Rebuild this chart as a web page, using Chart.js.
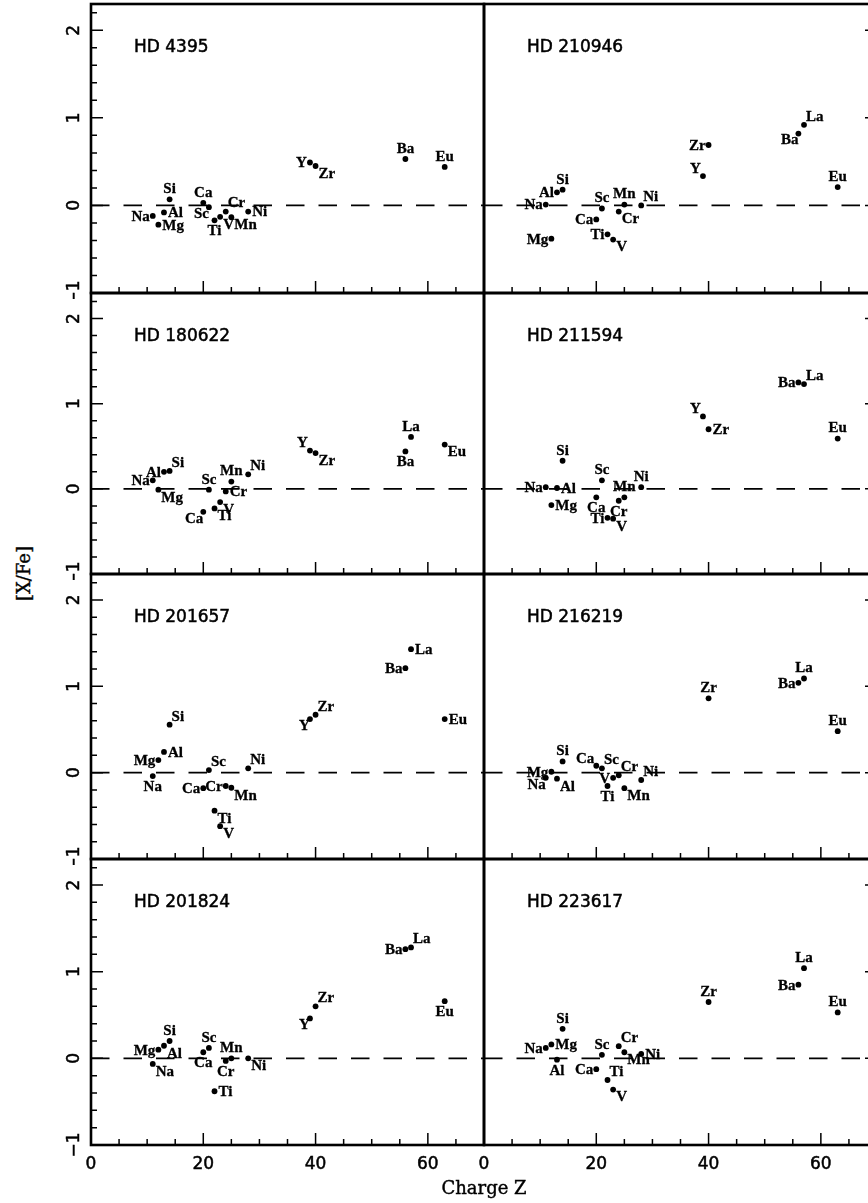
<!DOCTYPE html>
<html>
<head>
<meta charset="utf-8">
<script src="https://cdn.jsdelivr.net/npm/chart.js@4.4.1/dist/chart.umd.min.js"></script>
<style>
  body { margin: 0; background: #fff; }
  #wrap { position: relative; width: 868px; height: 1203px; overflow: hidden; background: #fff; }
  #wrap canvas { position: absolute; }
  .axtitle { position: absolute; font-family: "DejaVu Serif"; font-size: 18px; color: #000; white-space: nowrap; -webkit-text-stroke: 0.4px #000; }
</style>
</head>
<body>
<div id="wrap"></div>
<script>
// element order and their charge Z
const elements = ['Na', 'Mg', 'Al', 'Si', 'Ca', 'Sc', 'Ti', 'V', 'Cr', 'Mn', 'Ni', 'Y', 'Zr', 'Ba', 'La', 'Eu'];
const charges = [11, 12, 13, 14, 20, 21, 22, 23, 24, 25, 28, 39, 40, 56, 57, 63];

const stars = ['HD 4395', 'HD 210946', 'HD 180622', 'HD 211594', 'HD 201657', 'HD 216219', 'HD 201824', 'HD 223617'];

// [X/Fe] per star, same order as elements (null = not measured)
const hd4395   = [-0.12, -0.22, -0.08, 0.07, 0.03, -0.02, -0.17, -0.13, -0.07, -0.135, -0.07, 0.49, 0.45, 0.53, null, 0.44];
const hd210946 = [0.01, -0.38, 0.15, 0.18, -0.16, -0.035, -0.33, -0.39, -0.07, 0.01, 0.00, 0.335, 0.69, 0.82, 0.92, 0.21];
const hd180622 = [0.10, -0.01, 0.20, 0.21, -0.27, -0.01, -0.23, -0.155, -0.03, 0.085, 0.17, 0.45, 0.42, 0.44, 0.61, 0.52];
const hd211594 = [0.02, -0.19, 0.01, 0.33, -0.10, 0.10, -0.34, -0.35, -0.14, -0.10, 0.02, 0.85, 0.70, 1.25, 1.23, 0.59];
const hd201657 = [-0.04, 0.145, 0.24, 0.555, -0.18, 0.03, -0.44, -0.62, -0.155, -0.175, 0.05, 0.62, 0.67, 1.21, 1.43, 0.62];
const hd216219 = [-0.06, 0.01, -0.07, 0.13, 0.08, 0.05, -0.155, -0.06, -0.03, -0.18, -0.085, null, 0.86, 1.04, 1.09, 0.48];
const hd201824 = [-0.065, 0.10, 0.145, 0.20, 0.07, 0.12, -0.38, null, -0.03, 0.00, 0.00, 0.46, 0.60, 1.26, 1.28, 0.66];
const hd223617 = [0.12, 0.16, -0.015, 0.34, -0.125, 0.04, -0.25, -0.36, 0.14, 0.07, 0.05, null, 0.65, 0.85, 1.04, 0.53];
const values = [hd4395, hd210946, hd180622, hd211594, hd201657, hd216219, hd201824, hd223617];

// where each element label sits relative to its dot
const place = [
  ['l', 'r', 'r', 't', 't', 'bl', 'b', 'br', 'tr', 'br', 'r', 'l', 'br', 't', '', 't'],
  ['l', 'l', 'l', 't', 'l', 't', 'l', 'br', 'br', 't', 'tr', 'tl', 'l', 'bl', 'tr', 't'],
  ['l', 'br', 'l', 'tr', 'bl', 't', 'br', 'br', 'r', 't', 'tr', 'tl', 'br', 'b', 't', 'br'],
  ['l', 'r', 'r', 't', 'b', 't', 'l', 'br', 'b', 't', 't', 'tl', 'r', 'l', 'tr', 't'],
  ['b', 'l', 'r', 'tr', 'l', 'tr', 'br', 'br', 'l', 'br', 'tr', 'bl', 'tr', 'l', 'r', 'r'],
  ['bl', 'l', 'br', 't', 'tl', 'tr', 'b', 'l', 'tr', 'br', 'tr', '', 't', 'l', 't', 't'],
  ['br', 'l', 'br', 't', 'b', 't', 'r', '', 'b', 't', 'br', 'bl', 'tr', 'l', 'tr', 'b'],
  ['l', 'r', 'b', 't', 'l', 't', 'tr', 'br', 'tr', 'br', 'r', '', 't', 'l', 't', 't']
];

const xMin = 0, xMax = 70, xStep = 5;
const yMin = -1, yMax = 2.3, yStep = 0.2;

// panel geometry (page pixels)
const colLeft = [91, 484];
const panelW = 393;
const rowTop = [4, 293, 574, 859];
const rowBottom = [293, 574, 859, 1145];

const isInt = v => Math.abs(v - Math.round(v)) < 1e-6;
const labelFont = 'bold 15px "Liberation Serif"';

const framePlugin = {
  id: 'frame',
  afterDraw(chart, args, opts) {
    const { ctx, chartArea: a } = chart;
    const x = chart.scales.x, y = chart.scales.y;
    ctx.save();
    ctx.strokeStyle = '#000';
    ctx.fillStyle = '#000';

    // inward tick marks
    ctx.lineWidth = 1.5;
    ctx.beginPath();
    x.ticks.forEach(t => {
      const px = x.getPixelForValue(t.value);
      const len = t.value % 20 === 0 ? 12 : 6;
      ctx.moveTo(px, a.bottom);
      ctx.lineTo(px, a.bottom - len);
    });
    y.ticks.forEach(t => {
      const py = y.getPixelForValue(t.value);
      const len = isInt(t.value) ? 12 : 6;
      if (opts.side === 'left') {
        ctx.moveTo(a.left, py); ctx.lineTo(a.left + len, py);
      } else {
        ctx.moveTo(a.right, py); ctx.lineTo(a.right - len, py);
      }
    });
    ctx.stroke();

    // box
    ctx.lineWidth = 2.6;
    ctx.strokeRect(a.left, a.top, a.right - a.left, a.bottom - a.top);

    // rotated y tick labels on the left column
    ctx.lineWidth = 0.5;
    if (opts.side === 'left') {
      ctx.font = '17px "DejaVu Sans"';
      ctx.textAlign = 'center';
      ctx.textBaseline = 'middle';
      y.ticks.forEach(t => {
        if (!isInt(t.value)) return;
        const py = y.getPixelForValue(t.value);
        const n = Math.round(t.value);
        const txt = n < 0 ? '\u2212' + Math.abs(n) : String(n);
        ctx.save();
        ctx.translate(a.left - 16, py);
        ctx.rotate(-Math.PI / 2);
        ctx.fillText(txt, 0, 0);
        ctx.strokeText(txt, 0, 0);
        ctx.restore();
      });
    }

    // star name
    ctx.font = '17px "DejaVu Sans"';
    ctx.textAlign = 'left';
    ctx.textBaseline = 'middle';
    ctx.fillText(opts.title, a.left + 43, a.top + 44);
    ctx.strokeText(opts.title, a.left + 43, a.top + 44);

    // element labels
    const ds = chart.data.datasets[0];
    const meta = chart.getDatasetMeta(0);
    ctx.font = labelFont;
    ctx.lineWidth = 0.3;
    ctx.textBaseline = 'middle';
    meta.data.forEach((pt, k) => {
      const d = ds.data[k];
      const w = ctx.measureText(d.el).width;
      let lx = pt.x, ly = pt.y;
      switch (d.pos) {
        case 't': lx = pt.x - w / 2; ly = pt.y - 10; break;
        case 'b': lx = pt.x - w / 2; ly = pt.y + 11; break;
        case 'l': lx = pt.x - 3 - w; ly = pt.y + 1; break;
        case 'r': lx = pt.x + 4; ly = pt.y + 1; break;
        case 'tr': lx = pt.x + 2; ly = pt.y - 8; break;
        case 'br': lx = pt.x + 3; ly = pt.y + 8; break;
        case 'tl': lx = pt.x - 2 - w; ly = pt.y - 7; break;
        case 'bl': lx = pt.x - w; ly = pt.y + 7; break;
        default: return;
      }
      ctx.textAlign = 'left';
      ctx.fillText(d.el, lx, ly);
      ctx.strokeText(d.el, lx, ly);
    });
    ctx.restore();
  }
};

const wrap = document.getElementById('wrap');

stars.forEach((star, i) => {
  const col = i % 2, row = Math.floor(i / 2);
  const L = col === 0 ? 50 : 30, R = 10, T = 6, B = row === 3 ? 40 : 6;
  const h = rowBottom[row] - rowTop[row];
  const canvas = document.createElement('canvas');
  canvas.width = panelW + L + R;
  canvas.height = h + T + B;
  canvas.style.left = (colLeft[col] - L) + 'px';
  canvas.style.top = (rowTop[row] - T) + 'px';
  wrap.appendChild(canvas);

  const pts = elements
    .map((el, k) => ({ x: charges[k], y: values[i][k], el, pos: place[i][k] }))
    .filter(p => p.y !== null);

  new Chart(canvas.getContext('2d'), {
    type: 'scatter',
    data: {
      datasets: [
        {
          data: pts,
          pointRadius: 2.9,
          pointHoverRadius: 2.9,
          pointBackgroundColor: '#000',
          pointBorderWidth: 0
        },
        {
          type: 'line',
          data: [{ x: xMin, y: 0 }, { x: xMax, y: 0 }],
          borderColor: '#000',
          borderWidth: 1.6,
          borderDash: [18.5, 14],
          pointRadius: 0
        }
      ]
    },
    options: {
      responsive: false,
      animation: false,
      events: [],
      layout: { padding: { left: 0, right: R, top: T, bottom: 0 } },
      plugins: {
        legend: { display: false },
        tooltip: { enabled: false },
        frame: { side: col === 0 ? 'left' : 'right', title: star }
      },
      scales: {
        x: {
          type: 'linear',
          min: xMin,
          max: xMax,
          grid: { display: false, drawTicks: false },
          border: { display: false },
          ticks: {
            display: row === 3,
            stepSize: xStep,
            includeBounds: false,
            autoSkip: false,
            maxRotation: 0,
            padding: 9,
            color: '#000',
            textStrokeColor: '#000',
            textStrokeWidth: 0.5,
            font: { family: 'DejaVu Sans', size: 17 },
            callback: v => (v % 20 === 0 && v < xMax ? String(v) : '')
          },
          afterFit: s => { s.height = B; }
        },
        y: {
          type: 'linear',
          min: yMin,
          max: yMax,
          grid: { display: false, drawTicks: false },
          border: { display: false },
          ticks: { display: false, stepSize: yStep, includeBounds: false },
          afterFit: s => { s.width = L; }
        }
      }
    },
    plugins: [framePlugin]
  });
});

// shared axis titles
const xt = document.createElement('div');
xt.className = 'axtitle';
xt.textContent = 'Charge Z';
xt.style.left = '384px';
xt.style.width = '200px';
xt.style.textAlign = 'center';
xt.style.top = '1177px';
wrap.appendChild(xt);

const yt = document.createElement('div');
yt.className = 'axtitle';
yt.textContent = '[X/Fe]';
yt.style.width = '100px';
yt.style.textAlign = 'center';
yt.style.left = '-27px';
yt.style.top = '563px';
yt.style.transform = 'rotate(-90deg)';
wrap.appendChild(yt);
</script>
</body>
</html>
